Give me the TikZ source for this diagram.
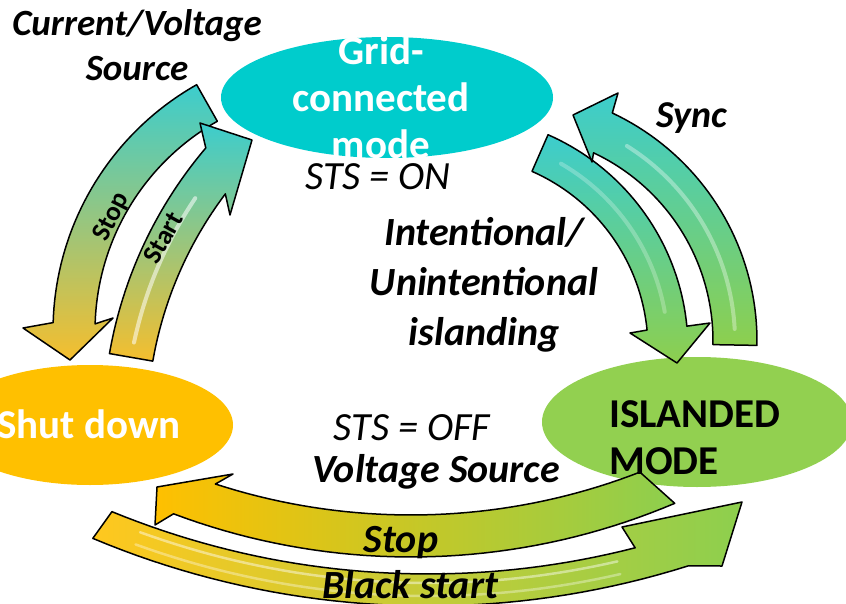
\documentclass[tikz,border=0pt]{standalone}
\usepackage{fontspec}
\setmainfont{Carlito}
\usetikzlibrary{shapes.geometric}
\definecolor{cgrid}{HTML}{00CCCC}
\definecolor{cshut}{HTML}{FFC000}
\definecolor{cisland}{HTML}{92D050}
\definecolor{acyan}{HTML}{3CCDCD}
\definecolor{aorange}{HTML}{F5BE2E}
\definecolor{agreen}{HTML}{8DCF4E}
\definecolor{ayellow}{HTML}{FFC81E}
\tikzset{
  stateell/.style={ellipse, inner sep=0pt, draw=none},
  arrowbody/.style={draw=black, line width=1.5pt, line join=round},
  seg/.style={samples=40, variable=\t},
  gloss/.style={white, line width=4pt, line cap=round},
  statetxt/.style={font=\fontsize{41}{47}\selectfont\bfseries, align=center, inner sep=0pt},
  lab/.style={font=\fontsize{40}{50}\selectfont\bfseries\itshape, align=center, inner sep=0pt},
  sts/.style={font=\fontsize{40}{48}\selectfont\itshape, inner sep=0pt},
  smalllab/.style={font=\fontsize{27}{30}\selectfont\bfseries, inner sep=0pt},
}

\begin{document}
\begin{tikzpicture}[x=1pt, y=-1pt]
  \useasboundingbox (0,0) rectangle (846,604);
  \clip (0,0) rectangle (846,604);

  % the three modes
  \node[stateell, fill=cgrid, minimum width=332pt, minimum height=121pt] (grid) at (387,97.5) {};
  \node[stateell, fill=cshut, minimum width=286pt, minimum height=120pt] (shut) at (90,425) {};
  \node[stateell, fill=cisland, minimum width=310pt, minimum height=130pt] (island) at (697,422) {};

  % grid <-> shut down
  \shadedraw[arrowbody, top color=acyan, bottom color=aorange]
    plot[seg, domain=240.5:181.7] ({336+283*cos(\t)},{331+283*sin(\t)})
    -- (23,328) -- (70,360) -- (113,318)
    -- plot[seg, domain=181.7:240.5] ({336+241*cos(\t)},{331+241*sin(\t)}) -- cycle;
  \shadedraw[arrowbody, top color=acyan, bottom color=aorange]
    plot[seg, domain=189.9:220.3] ({536+433*cos(\t)},{428+433*sin(\t)})
    -- (200,123) -- (252,140) -- (230,215)
    -- plot[seg, domain=217:189.9] ({536+389*cos(\t)},{428+389*sin(\t)}) -- cycle;
  \draw[gloss, opacity=0.55] plot[seg, domain=192:214] ({536+411*cos(\t)},{428+411*sin(\t)});

  % grid <-> islanded
  \shadedraw[arrowbody, top color=acyan, bottom color=agreen]
    plot[seg, domain=-66.3:-5.6] ({454+234*cos(\t)},{349+234*sin(\t)})
    -- (710,323) -- (677,363) -- (630,333)
    -- plot[seg, domain=-5.6:-66.3] ({454+194*cos(\t)},{349+194*sin(\t)}) -- cycle;
  \draw[gloss, opacity=0.25] plot[seg, domain=-60:-10] ({454+214*cos(\t)},{349+214*sin(\t)});
  \shadedraw[arrowbody, top color=acyan, bottom color=agreen]
    plot[seg, domain=1:-64.8] ({505+252*cos(\t)},{341+252*sin(\t)})
    -- (618,93) -- (573,115) -- (592,162)
    -- plot[seg, domain=-64.8:1] ({505+208*cos(\t)},{341+208*sin(\t)}) -- cycle;
  \draw[gloss, opacity=0.35] plot[seg, domain=-3:-58] ({505+230*cos(\t)},{341+230*sin(\t)});

  % islanded <-> shut down
  \shadedraw[arrowbody, left color=ayellow, right color=agreen]
    plot[seg, domain=112.8:72.5] ({428+865*cos(\t)},{-259+865*sin(\t)})
    -- (722,566) -- (742,502) -- (622,527)
    -- plot[seg, domain=75.6:112.3] ({428+833*cos(\t)},{-259+833*sin(\t)}) -- cycle;
  \draw[gloss, line width=2.5pt, opacity=0.45] plot[seg, domain=110:77] ({428+842*cos(\t)},{-259+842*sin(\t)});
  \draw[gloss, line width=2.5pt, opacity=0.35] plot[seg, domain=110:77] ({428+855*cos(\t)},{-259+855*sin(\t)});
  \shadedraw[arrowbody, left color=cshut, right color=agreen]
    plot[seg, domain=67:110.6] ({411+675*cos(\t)},{-118+675*sin(\t)})
    -- (155,525) -- (157,487) -- (233,474)
    -- plot[seg, domain=108:68.8] ({411+633*cos(\t)},{-118+633*sin(\t)}) -- cycle;

  % texts
  \node[statetxt, white] (gridtxt) at (381,97) {Grid-\\connected\\mode};
  \node[statetxt, white, anchor=base] (shuttxt) at (89,438) {Shut down};
  \node[statetxt, align=left, anchor=west] (islandtxt) at (609,438) {ISLANDED\\MODE};
  \node[lab, font=\fontsize{37}{45}\selectfont\bfseries\itshape] (cvsrc) at (137,45) {Current/Voltage\\Source};
  \node[sts, anchor=base] (stson) at (378,190) {STS = ON};
  \node[lab] (islanding) at (484,285) {Intentional/\\Unintentional\\islanding};
  \node[lab, font=\fontsize{38}{45}\selectfont\bfseries\itshape, anchor=base] (sync) at (692,128) {Sync};
  \node[sts, anchor=base] (stsoff) at (412,440) {STS = OFF};
  \node[lab, anchor=base] (vsrc) at (436,482) {Voltage Source};
  \node[lab, anchor=base] (stopb) at (401,552) {Stop};
  \node[lab, anchor=base] (black) at (410,598) {Black start};
  \node[smalllab, rotate=63] (stopl) at (112,217) {Stop};
  \node[smalllab, rotate=61] (startl) at (163,238) {Start};
\end{tikzpicture}
\end{document}
